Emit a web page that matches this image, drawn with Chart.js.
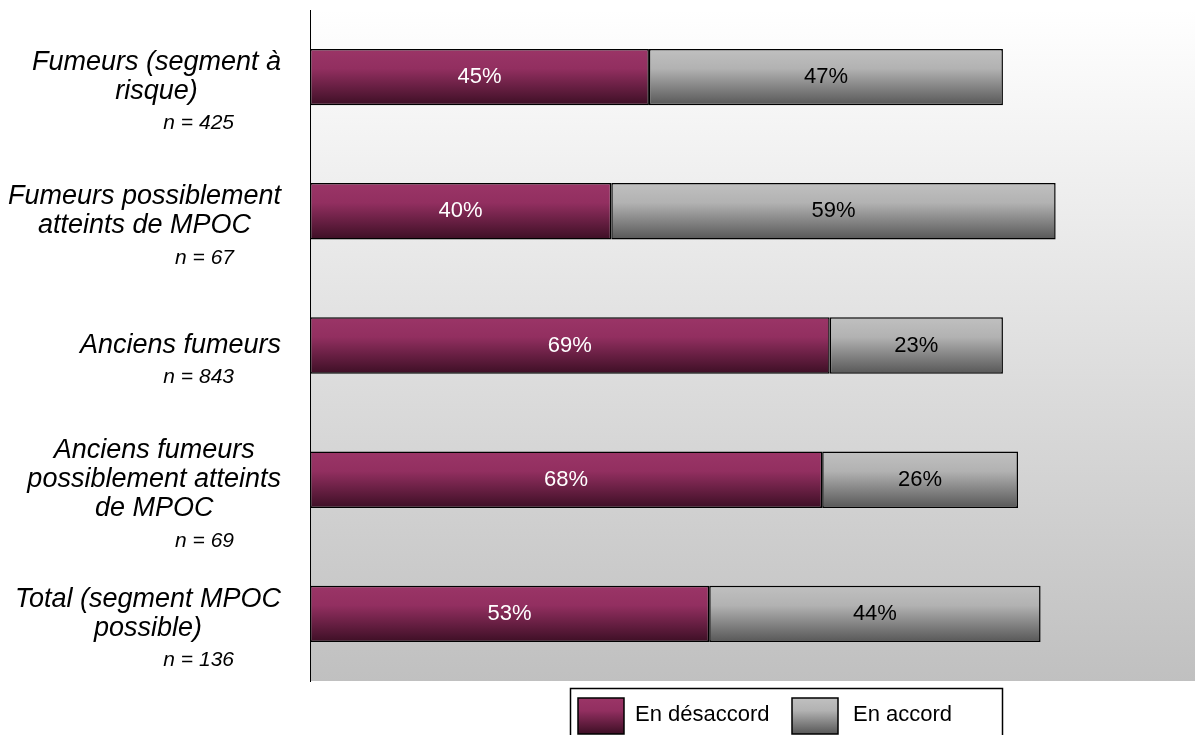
<!DOCTYPE html>
<html>
<head>
<meta charset="utf-8">
<script src="https://cdn.jsdelivr.net/npm/chart.js@4.4.0/dist/chart.umd.min.js"></script>
<style>
  body { margin: 0; background: #fff; }
  canvas { display: block; }
</style>
</head>
<body>
<canvas id="barChart" width="1195" height="735"></canvas>
<script>
  // Data
  const categories = [
    ['Fumeurs (segment à', 'risque)'],
    ['Fumeurs possiblement', 'atteints de MPOC'],
    ['Anciens fumeurs'],
    ['Anciens fumeurs', 'possiblement atteints', 'de MPOC'],
    ['Total (segment MPOC', 'possible)']
  ];
  const sampleSizes = ['n = 425', 'n = 67', 'n = 843', 'n = 69', 'n = 136'];
  const disagree = [45, 40, 69, 68, 53];
  const agree = [47, 59, 23, 26, 44];
  const seriesNames = ['En désaccord', 'En accord'];

  const FONT = '"Liberation Sans", Arial, sans-serif';
  const BAR_PCT = 0.42;
  const maroonStops = [[0, '#9b3567'], [0.35, '#922f60'], [1, '#3d0f25']];
  const greyStops = [[0, '#c0c0c0'], [0.35, '#b2b2b2'], [1, '#575757']];

  function makeGradient(ctx, y0, y1, stops) {
    const g = ctx.createLinearGradient(0, y0, 0, y1);
    stops.forEach(s => g.addColorStop(s[0], s[1]));
    return g;
  }

  function barFill(stops) {
    return function (c) {
      const chart = c.chart;
      const y = chart.scales.y;
      if (!chart.chartArea || !y || c.dataIndex === undefined) return stops[1][1];
      const center = y.getPixelForValue(c.dataIndex);
      const half = y.height / categories.length * BAR_PCT / 2;
      return makeGradient(chart.ctx, center - half, center + half, stops);
    };
  }

  // plot background gradient
  const plotBackground = {
    id: 'plotBackground',
    beforeDraw(chart) {
      const { ctx, chartArea: a } = chart;
      ctx.save();
      ctx.fillStyle = makeGradient(ctx, a.top, a.bottom, [[0, '#ffffff'], [1, '#c0c0c0']]);
      ctx.fillRect(a.left, a.top, a.right - a.left, a.bottom - a.top);
      ctx.restore();
    }
  };

  // category labels, n labels, values in bars, legend
  const textLayer = {
    id: 'textLayer',
    afterDraw(chart) {
      const ctx = chart.ctx;
      const y = chart.scales.y;
      ctx.save();
      ctx.fillStyle = '#000';
      ctx.textBaseline = 'middle';

      categories.forEach((lines, i) => {
        const cy = y.getPixelForValue(i);
        ctx.font = 'italic 27px ' + FONT;
        const maxW = Math.max(...lines.map(l => ctx.measureText(l).width));
        const cx = 281 - maxW / 2;
        const lh = 29;
        const first = cy - (lines.length - 1) * lh / 2;
        ctx.textAlign = 'center';
        lines.forEach((l, k) => ctx.fillText(l, cx, first + k * lh));
        ctx.font = 'italic 21px ' + FONT;
        ctx.textAlign = 'right';
        ctx.fillText(sampleSizes[i], 234, first + (lines.length - 1) * lh + 32);
      });

      // values inside bars
      ctx.font = '22px ' + FONT;
      ctx.textAlign = 'center';
      chart.data.datasets.forEach((ds, d) => {
        const meta = chart.getDatasetMeta(d);
        meta.data.forEach((bar, i) => {
          const p = bar.getCenterPoint();
          ctx.fillStyle = d === 0 ? '#ffffff' : '#000000';
          ctx.fillText(ds.data[i] + '%', p.x, p.y);
        });
      });

      // legend box
      ctx.strokeStyle = '#000';
      ctx.lineWidth = 1.5;
      ctx.fillStyle = '#fff';
      ctx.fillRect(570, 688, 432, 60);
      ctx.strokeRect(570.5, 688.5, 432, 60);
      const items = [
        { x: 578, tx: 635, stops: maroonStops },
        { x: 792, tx: 853, stops: greyStops }
      ];
      items.forEach((it, d) => {
        ctx.fillStyle = makeGradient(ctx, 698, 734, it.stops);
        ctx.fillRect(it.x, 698, 46, 36);
        ctx.strokeRect(it.x, 698, 46, 36);
        ctx.fillStyle = '#000';
        ctx.font = '22px ' + FONT;
        ctx.textAlign = 'left';
        ctx.fillText(chart.data.datasets[d].label, it.tx, 715);
      });
      ctx.restore();
    }
  };

  const barCtx = document.getElementById('barChart').getContext('2d');
  const barChart = new Chart(barCtx, {
    type: 'bar',
    data: {
      labels: categories,
      datasets: [{
        label: seriesNames[0],
        data: disagree,
        backgroundColor: barFill(maroonStops)
      }, {
        label: seriesNames[1],
        data: agree,
        backgroundColor: barFill(greyStops)
      }]
    },
    options: {
      responsive: false,
      animation: false,
      indexAxis: 'y',
      layout: { padding: { left: 310, top: 10, right: 0, bottom: 54 } },
      datasets: {
        bar: {
          barPercentage: BAR_PCT,
          categoryPercentage: 1,
          borderColor: '#000',
          borderWidth: 1.5,
          borderSkipped: false
        }
      },
      scales: {
        x: { stacked: true, min: 0, max: 117.5, display: false },
        y: {
          stacked: true,
          ticks: { display: false },
          grid: { display: false, drawTicks: false, tickLength: 0 },
          border: { display: true, color: '#000', width: 1 }
        }
      },
      plugins: {
        legend: { display: false },
        tooltip: { enabled: false }
      }
    },
    plugins: [plotBackground, textLayer]
  });
</script>
</body>
</html>
